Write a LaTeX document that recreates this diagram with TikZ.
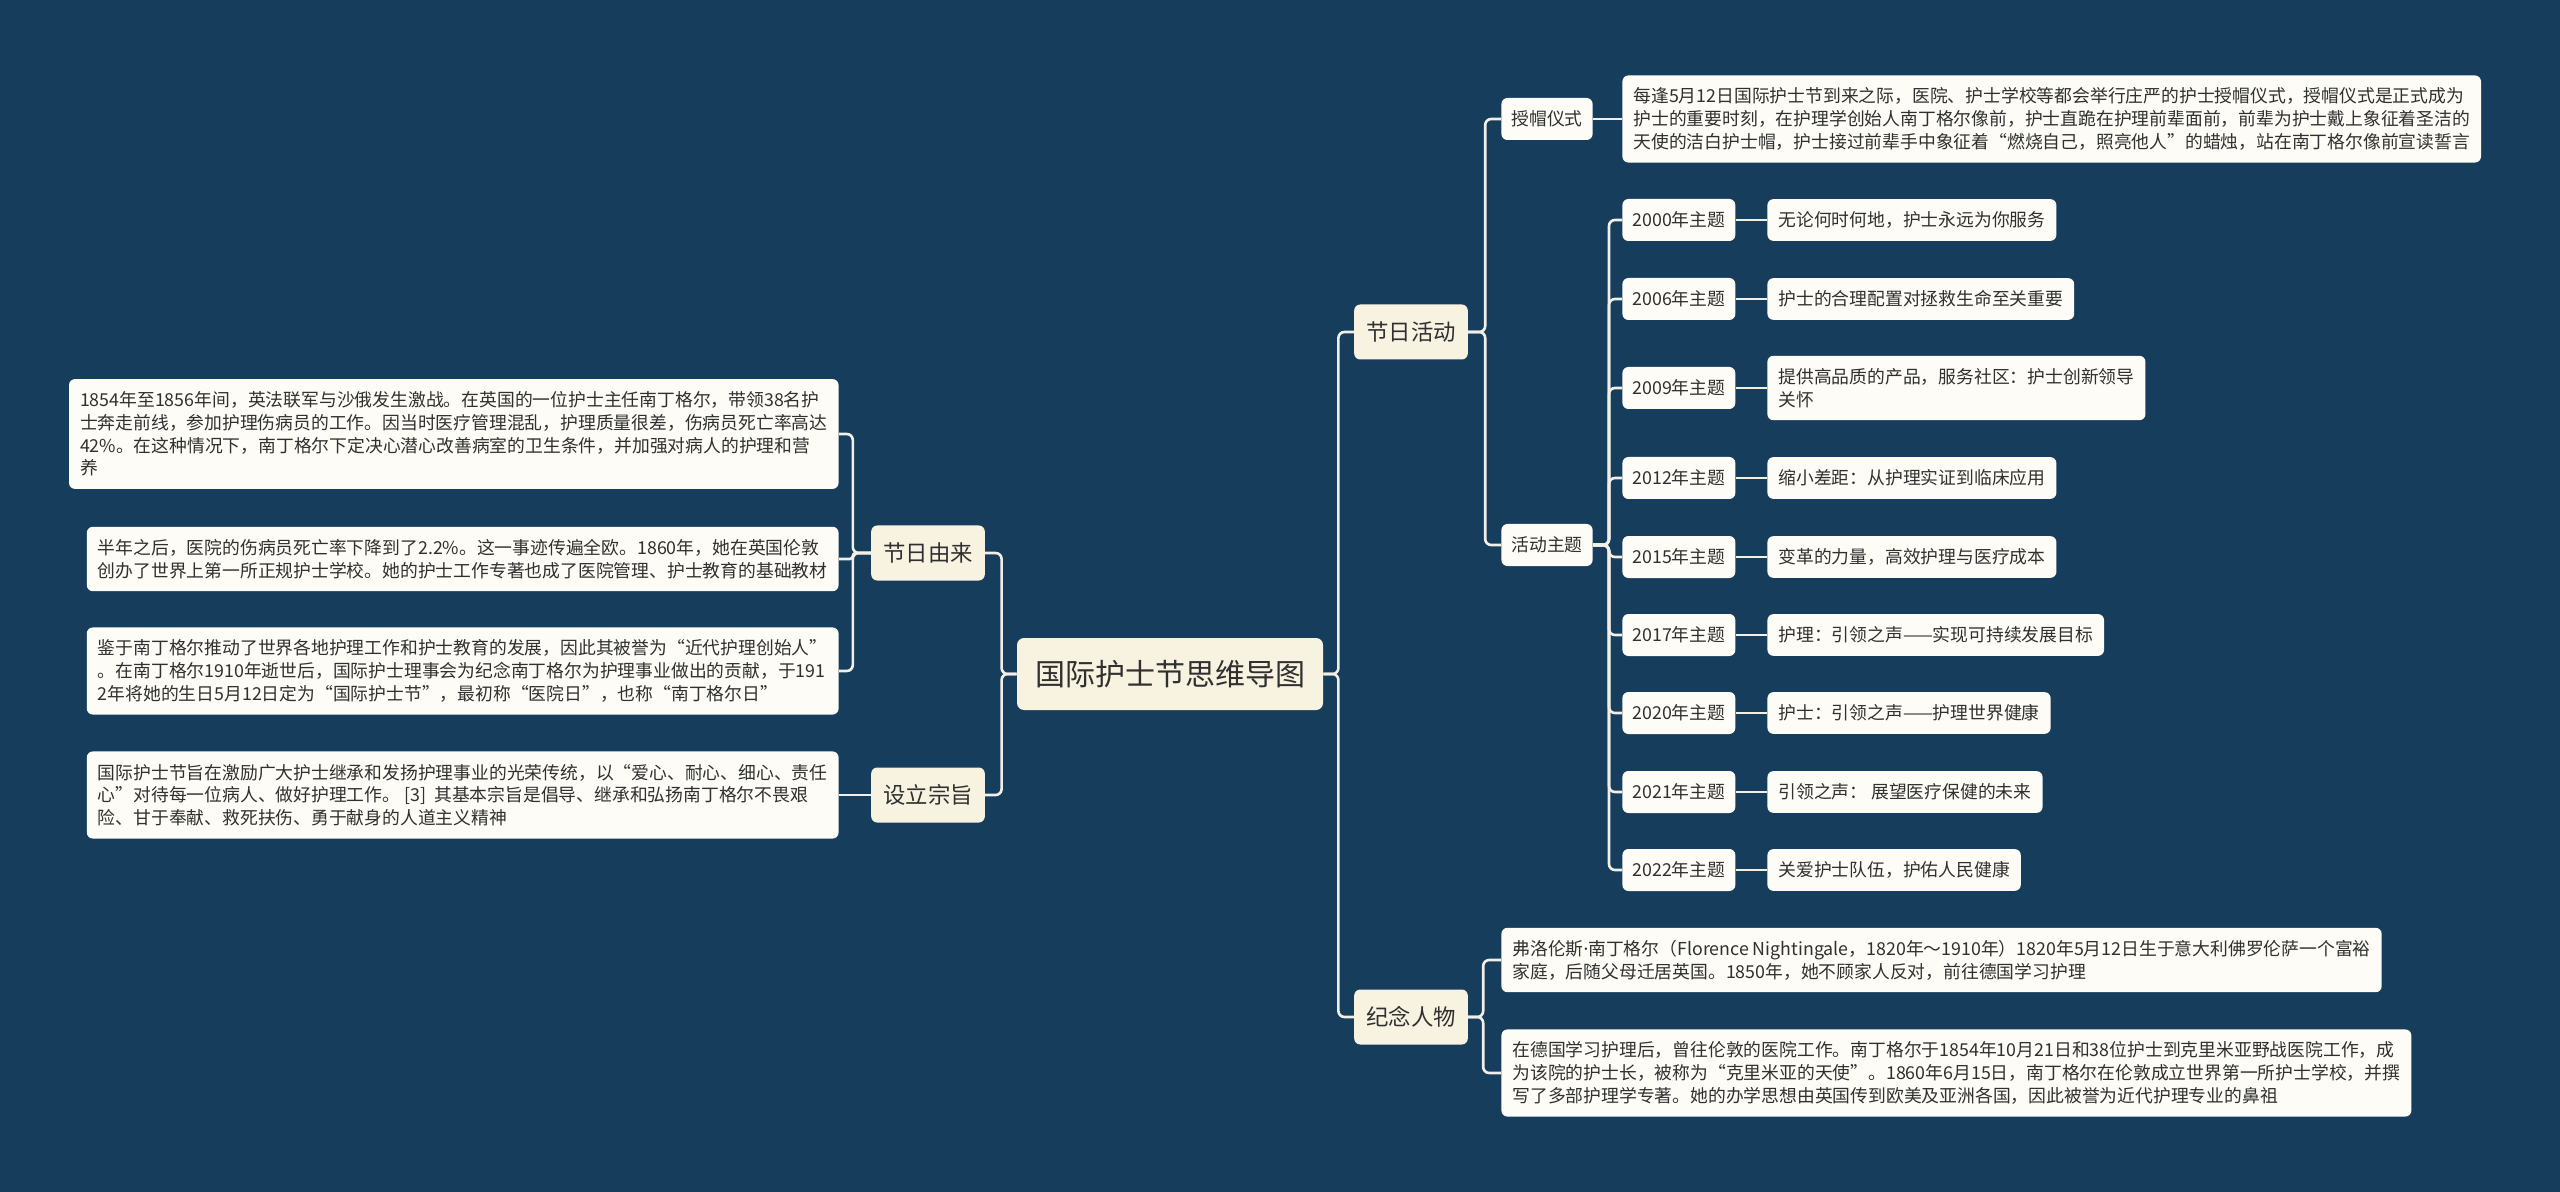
\documentclass[tikz,border=0pt]{standalone}
\usepackage{fontspec}
\setmainfont{Noto Sans CJK SC}
\newfontfamily\latinfont{Noto Sans}
\definecolor{navy}{HTML}{173D5D}
\definecolor{cream}{HTML}{F8F2E0}
\definecolor{paper}{HTML}{FDFCF7}
\definecolor{wire}{HTML}{F2EFE6}
\definecolor{ink}{HTML}{303030}
\tikzset{
  root/.style={fill=cream,text=ink,rounded corners=3.5pt,font=\fontsize{15}{18}\selectfont,inner xsep=9pt,minimum height=36pt},
  branch/.style={fill=cream,text=ink,rounded corners=3pt,font=\fontsize{11.2}{13.5}\selectfont,inner xsep=6pt,minimum height=27.5pt},
  tag/.style={fill=paper,text=ink,rounded corners=3pt,font=\fontsize{8.9}{11.35}\selectfont,inner xsep=5pt,inner ysep=1pt,minimum height=21pt},
  leaf/.style={tag,align=left,inner xsep=5.5pt},
  nlines/.style={minimum height={9.5pt+#1*11.35pt}},
  link/.style={draw=wire,line width=1.3pt,rounded corners=3pt},
}
\begin{document}
\begin{tikzpicture}[x=0.5pt,y=-0.5pt]
  \fill[navy] (0,0) rectangle (2560,1192);
  % Mitte und Hauptaeste
  \node[root] (title) at (1170,674) {国际护士节思维导图};
  \node[branch] (fest) at (1411,332) {节日活动};
  \node[branch] (figure) at (1411,1017) {纪念人物};
  \node[branch] (origin) at (928,553) {节日由来};
  \node[branch] (aim) at (928,795) {设立宗旨};
  \draw[link] (title.west) -- ++(-15,0) |- (origin.east);
  \draw[link] (title.west) -- ++(-15,0) |- (aim.east);
  \draw[link] (title.east) -- ++(15,0) |- (fest.west);
  \draw[link] (title.east) -- ++(15,0) |- (figure.west);
  % 节日活动
  \node[tag,anchor=west] (cap) at (1501,119) {授帽仪式};
  \node[leaf,nlines=3,anchor=west] (captext) at (1622,119)
    {每逢5月12日国际护士节到来之际，医院、护士学校等都会举行庄严的护士授帽仪式，授帽仪式是正式成为\\
     护士的重要时刻，在护理学创始人南丁格尔像前，护士直跪在护理前辈面前，前辈为护士戴上象征着圣洁的\\
     天使的洁白护士帽，护士接过前辈手中象征着“燃烧自己，照亮他人”的蜡烛，站在南丁格尔像前宣读誓言};
  \node[tag,anchor=west] (themes) at (1501,545) {活动主题};
  \draw[link] (fest.east) -- ++(17,0) |- (cap.west);
  \draw[link] (fest.east) -- ++(17,0) |- (themes.west);
  \draw[link] (cap.east) -- (captext.west);
  \foreach \yr/\ypos/\nl/\motto in {
    2000/220/1/{无论何时何地，护士永远为你服务},
    2006/299/1/{护士的合理配置对拯救生命至关重要},
    2009/388/2/{提供高品质的产品，服务社区：护士创新领导\\关怀},
    2012/478/1/{缩小差距：从护理实证到临床应用},
    2015/557/1/{变革的力量，高效护理与医疗成本},
    2017/635/1/{护理：引领之声——实现可持续发展目标},
    2020/713/1/{护士：引领之声——护理世界健康},
    2021/792/1/{引领之声： 展望医疗保健的未来},
    2022/870/1/{关爱护士队伍，护佑人民健康}}{
    \node[tag,anchor=west] (y\yr) at (1622,\ypos) {\yr 年主题};
    \node[leaf,nlines=\nl,anchor=west] (m\yr) at (1767,\ypos) {\motto};
    \draw[link] (themes.east) -- ++(16,0) |- (y\yr.west);
    \draw[link] (y\yr.east) -- (m\yr.west);
  }
  % 纪念人物
  \node[leaf,nlines=2,anchor=west] (bio) at (1501,960)
    {弗洛伦斯{\latinfont ·}南丁格尔（Florence Nightingale，1820年～1910年）1820年5月12日生于意大利佛罗伦萨一个富裕\\
     家庭，后随父母迁居英国。1850年，她不顾家人反对，前往德国学习护理};
  \node[leaf,nlines=3,anchor=west] (career) at (1501,1073)
    {在德国学习护理后，曾往伦敦的医院工作。南丁格尔于1854年10月21日和38位护士到克里米亚野战医院工作，成\\
     为该院的护士长，被称为“克里米亚的天使”。1860年6月15日，南丁格尔在伦敦成立世界第一所护士学校，并撰\\
     写了多部护理学专著。她的办学思想由英国传到欧美及亚洲各国，因此被誉为近代护理专业的鼻祖};
  \draw[link] (figure.east) -- ++(15,0) |- (bio.west);
  \draw[link] (figure.east) -- ++(15,0) |- (career.west);
  % 节日由来, 设立宗旨
  \node[leaf,nlines=4,anchor=east] (war) at (839,434)
    {1854年至1856年间，英法联军与沙俄发生激战。在英国的一位护士主任南丁格尔，带领38名护\\
     士奔走前线，参加护理伤病员的工作。因当时医疗管理混乱，护理质量很差，伤病员死亡率高达\\
     42\%。在这种情况下，南丁格尔下定决心潜心改善病室的卫生条件，并加强对病人的护理和营\\
     养};
  \node[leaf,nlines=2,anchor=east] (school) at (839,559)
    {半年之后，医院的伤病员死亡率下降到了2.2\%。这一事迹传遍全欧。1860年，她在英国伦敦\\
     创办了世界上第一所正规护士学校。她的护士工作专著也成了医院管理、护士教育的基础教材};
  \node[leaf,nlines=3,anchor=east] (honour) at (839,671)
    {鉴于南丁格尔推动了世界各地护理工作和护士教育的发展，因此其被誉为“近代护理创始人”\\
     。在南丁格尔1910年逝世后，国际护士理事会为纪念南丁格尔为护理事业做出的贡献，于191\\
     2年将她的生日5月12日定为“国际护士节”，最初称“医院日”，也称“南丁格尔日”};
  \node[leaf,nlines=3,anchor=east] (purpose) at (839,795)
    {国际护士节旨在激励广大护士继承和发扬护理事业的光荣传统，以“爱心、耐心、细心、责任\\
     心”对待每一位病人、做好护理工作。 [3]\ \ 其基本宗旨是倡导、继承和弘扬南丁格尔不畏艰\\
     险、甘于奉献、救死扶伤、勇于献身的人道主义精神};
  \draw[link] (origin.west) -- ++(-18,0) |- (war.east);
  \draw[link,rounded corners=1.5pt] (origin.west) -- ++(-18,0) |- (school.east);
  \draw[link] (origin.west) -- ++(-18,0) |- (honour.east);
  \draw[link] (aim.west) -- (purpose.east);
\end{tikzpicture}
\end{document}
